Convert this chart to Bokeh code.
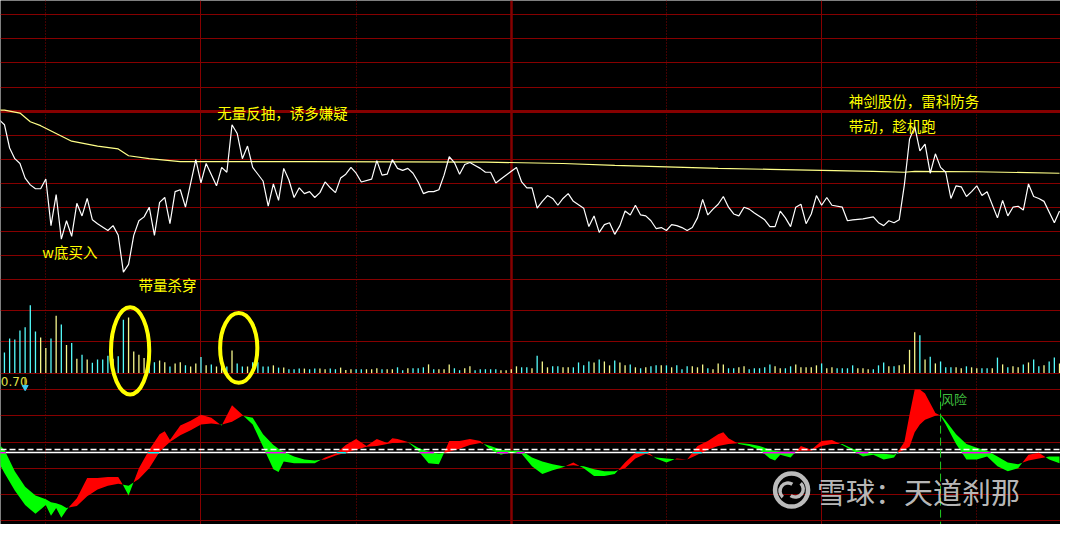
import numpy as np
from bokeh.plotting import figure
from bokeh.models import Range1d
from bokeh.core.properties import value
from bokeh.embed import file_html
from bokeh.resources import INLINE

# x values are trading minutes counted from 09:30 (120 = 11:30 / 13:00)

# ---------------- price line (minute, price) ----------------
price_t = [21, 22, 23, 24, 25, 26, 27, 28, 29, 30, 31, 32, 33, 34, 35, 36, 37, 38, 39, 40,
           42, 43, 44, 45, 46, 47, 48, 49, 50, 51, 52, 53, 54, 55, 56, 57,
           59, 60, 61,
           63, 64, 65, 66, 67, 68, 69, 70,
           72, 73, 74, 75, 76, 77, 78, 79, 80, 81, 82, 83, 84, 85, 86, 87, 88, 89, 90, 91,
           93, 94, 95, 96, 97, 98, 99, 100, 101, 102, 103, 104, 105, 106, 107, 108, 109, 110, 111, 112,
           113, 114, 115, 116, 117, 118,
           120, 121, 122, 123, 124, 125, 126, 127, 128, 129, 130, 131, 132,
           134, 135, 136, 137, 138, 139, 140, 141, 142, 143, 144, 145, 146, 147, 148, 149, 150, 151,
           152, 153, 154, 155, 156, 157, 158, 159, 160, 161, 162, 163, 164, 165, 166, 167,
           169, 170, 171, 172, 173, 174, 175, 176, 177, 178, 179, 180, 181, 182,
           184, 185, 186,
           188,
           190, 191, 192, 193, 194, 195, 196, 197, 198, 199, 200, 201, 202, 203, 204, 205, 206, 207,
           208, 209, 210, 211, 212,
           214, 215, 216, 217, 218, 219, 220, 221, 222, 223,
           225, 226]
price = [9.991, 9.986, 9.962, 9.951, 9.946, 9.931, 9.924, 9.920, 9.920, 9.930, 9.882, 9.914, 9.868, 9.887, 9.871, 9.905, 9.892, 9.910, 9.888, 9.884,
         9.877, 9.882, 9.872, 9.834, 9.842, 9.872, 9.887, 9.891, 9.901, 9.872, 9.906, 9.911, 9.884, 9.917, 9.919, 9.901,
         9.950, 9.926, 9.946,
         9.923, 9.942, 9.937, 9.986, 9.977, 9.951, 9.964, 9.942,
         9.928, 9.902, 9.925, 9.908, 9.941, 9.929, 9.911, 9.921, 9.915, 9.917, 9.911, 9.916, 9.927, 9.921, 9.916, 9.931, 9.935, 9.942, 9.936, 9.927,
         9.930, 9.949, 9.934, 9.935, 9.950, 9.941, 9.939, 9.941, 9.936, 9.927, 9.915, 9.917, 9.917, 9.919, 9.934, 9.953, 9.947, 9.935, 9.945, 9.947,
         9.944, 9.941, 9.937, 9.937, 9.926, 9.930,
         9.938, 9.942, 9.927, 9.921, 9.921, 9.900, 9.907, 9.913, 9.910, 9.903, 9.910, 9.915, 9.907,
         9.900, 9.881, 9.892, 9.875, 9.883, 9.885, 9.873, 9.882, 9.897, 9.893, 9.903, 9.893, 9.892, 9.887, 9.879, 9.880, 9.877, 9.883,
         9.882, 9.880, 9.877, 9.880, 9.890, 9.909, 9.893, 9.899, 9.904, 9.912, 9.901, 9.894, 9.892, 9.901, 9.899, 9.895,
         9.888, 9.881, 9.881, 9.897, 9.890, 9.881, 9.901, 9.904, 9.884, 9.894, 9.913, 9.903, 9.911, 9.903,
         9.901, 9.887, 9.888,
         9.889,
         9.891, 9.885, 9.882, 9.887, 9.885, 9.888, 9.924, 9.971, 9.984, 9.959, 9.966, 9.936, 9.956, 9.942, 9.937, 9.910, 9.923, 9.922,
         9.912, 9.917, 9.923, 9.913, 9.917,
         9.890, 9.908, 9.892, 9.901, 9.902, 9.898, 9.925, 9.912, 9.910, 9.907,
         9.885, 9.897]

# ---------------- average price line ----------------
avg_t = [21, 22, 25, 27, 29, 32, 35, 40, 44, 46, 50, 56, 80, 115, 130, 140, 150, 160, 170, 180, 190, 196, 198, 210, 226]
avg_price = [10.001, 10.001, 9.998, 9.989, 9.985, 9.977, 9.969, 9.964, 9.961, 9.954, 9.951, 9.948, 9.948, 9.9475,
             9.946, 9.944, 9.9425, 9.941, 9.940, 9.939, 9.938, 9.937, 9.938, 9.9375, 9.936]

# ---------------- volume (one bar per minute, minute 22 .. 226) ----------------
vol_t = list(range(22, 227))
volume = [2130, 3570, 3470, 4400, 4730, 7000, 4300, 3670, 2600, 3570,
          5900, 5000, 2900, 3100, 1470, 1900, 1400, 1070, 1400, 1400,
          1800, 1470, 1730, 5500, 5730, 2230, 1900, 1570, 1070, 1130,
          1300, 1130, 670, 1000, 1130, 800, 670, 1000, 1670, 800,
          900, 670, 1000, 670, 2330, 1000, 670, 670, 1130, 1130,
          670, 670, 800, 570, 570, 400, 400, 470, 470, 400,
          470, 470, 400, 470, 400, 570, 330, 400, 400, 400,
          400, 400, 500, 400, 400, 400, 600, 300, 500, 500,
          500, 600, 900, 400, 400, 400, 900, 500, 300, 500,
          700, 300, 400, 400, 400, 400, 300, 300, 400, 700,
          600, 600, 500, 1800, 1200, 600, 700, 700, 600, 600,
          600, 1100, 800, 1200, 1100, 1400, 1200, 800, 1300, 1100,
          800, 900, 600, 500, 600, 700, 800, 800, 800, 600,
          800, 400, 700, 700, 600, 900, 500, 400, 1000, 900,
          500, 500, 600, 700, 400, 500, 500, 600, 900, 700,
          500, 500, 700, 900, 600, 600, 600, 800, 1000, 500,
          600, 500, 500, 500, 800, 500, 500, 400, 400, 800,
          1100, 700, 700, 800, 900, 2400, 4200, 3900, 1400, 1700,
          1000, 1200, 600, 600, 600, 500, 700, 600, 500, 500,
          500, 500, 1600, 900, 600, 700, 600, 900, 1100, 1400,
          700, 800, 1200, 1600, 1000]
vol_up = [0, 0, 0, 0, 0, 0, 0, 1, 1, 0,
          1, 0, 1, 0, 1, 0, 1, 0, 0, 0,
          0, 1, 0, 0, 1, 1, 1, 1, 0, 0,
          1, 1, 0, 1, 1, 0, 1, 1, 0, 1,
          0, 1, 1, 0, 1, 0, 0, 1, 0, 0,
          0, 0, 1, 0, 1, 0, 0, 0, 1, 0,
          0, 1, 1, 0, 0, 1, 1, 1, 0, 0,
          1, 1, 1, 0, 1, 1, 0, 0, 1, 0,
          0, 0, 1, 0, 1, 1, 1, 0, 0, 1,
          1, 0, 0, 0, 0, 0, 1, 1, 1, 1,
          0, 0, 1, 0, 1, 1, 0, 0, 1, 1,
          0, 0, 0, 0, 1, 0, 1, 1, 0, 1,
          1, 0, 1, 0, 1, 0, 0, 1, 0, 1,
          0, 0, 0, 1, 1, 1, 0, 1, 1, 1,
          0, 0, 1, 1, 0, 0, 0, 0, 0, 1,
          1, 0, 0, 1, 1, 1, 1, 1, 0, 1,
          1, 0, 0, 0, 0, 1, 1, 1, 0, 0,
          0, 1, 0, 1, 1, 1, 1, 0, 1, 0,
          1, 0, 0, 0, 1, 1, 0, 1, 1, 0,
          0, 1, 0, 1, 0, 1, 1, 0, 1, 0,
          0, 1, 0, 0, 1]

# ---------------- indicator (fast / slow lines, ribbon between them) ----------------
ind_t = [21, 22, 24, 26, 28, 30, 31, 32, 33, 34,
         36, 38, 40, 42, 44, 45, 46, 48, 50, 52,
         53, 54, 56, 58, 60, 62, 64, 66, 68, 70,
         72, 74, 75, 76, 78, 80, 82, 84, 86, 88,
         90, 92, 94, 96, 97, 98, 100, 102, 104, 106,
         108, 110, 112, 114, 116, 118, 120, 122, 124, 126,
         128, 130, 132, 134, 136, 138, 140, 142, 144, 146,
         148, 150, 152, 154, 156, 158, 160, 161, 162, 164,
         166, 168, 170, 171, 172, 174, 176, 178, 180, 182,
         184, 186, 188, 190, 192, 194, 196, 197, 198, 199,
         200, 202, 203, 204, 206, 208, 210, 212, 214, 216,
         218, 220, 222, 224, 226]
ind_fast = [-0.11, -0.21, -0.39, -0.54, -0.63, -0.54, -0.65, -0.57, -0.67, -0.59,
            -0.47, -0.26, -0.26, -0.25, -0.25, -0.34, -0.44, -0.16, 0.03, 0.19,
            0.22, 0.13, 0.28, 0.33, 0.39, 0.36, 0.28, 0.49, 0.39, 0.29,
            0.06, -0.17, -0.20, -0.09, -0.11, -0.11, -0.11, -0.05, -0.01, 0.08,
            0.14, 0.07, 0.14, 0.10, 0.15, 0.14, 0.11, 0.02, -0.11, -0.12,
            0.12, 0.12, 0.14, 0.12, 0.03, -0.02, 0.01, -0.01, -0.14, -0.22,
            -0.18, -0.15, -0.10, -0.16, -0.24, -0.24, -0.22, -0.10, 0.00, 0.02,
            -0.06, -0.10, -0.06, -0.07, 0.07, 0.12, 0.19, 0.21, 0.15, 0.09,
            0.07, 0.03, -0.06, -0.08, -0.02, -0.05, 0.07, 0.03, 0.12, 0.13,
            0.08, 0.02, -0.04, -0.02, -0.07, -0.05, 0.11, 0.39, 0.65, 0.65,
            0.61, 0.41, 0.38, 0.29, 0.09, -0.07, -0.07, -0.04, -0.14, -0.19,
            -0.16, -0.02, 0.00, -0.07, -0.11]
ind_slow = [0.08, 0.03, -0.19, -0.35, -0.44, -0.48, -0.51, -0.52, -0.54, -0.57,
            -0.55, -0.45, -0.38, -0.34, -0.32, -0.33, -0.34, -0.27, -0.16, 0.01,
            0.06, 0.11, 0.18, 0.23, 0.29, 0.30, 0.29, 0.32, 0.38, 0.36,
            0.19, 0.08, 0.04, 0.01, -0.04, -0.07, -0.08, -0.07, -0.03, 0.00,
            0.03, 0.06, 0.07, 0.09, 0.10, 0.10, 0.11, 0.05, 0.01, -0.01,
            0.01, 0.04, 0.08, 0.10, 0.07, 0.03, 0.02, 0.02, -0.05, -0.09,
            -0.12, -0.14, -0.13, -0.14, -0.17, -0.19, -0.19, -0.16, -0.06, -0.01,
            -0.05, -0.06, -0.07, -0.07, -0.02, 0.03, 0.07, 0.08, 0.09, 0.10,
            0.09, 0.07, 0.03, 0.02, 0.01, 0.00, 0.02, 0.02, 0.07, 0.09,
            0.09, 0.04, 0.01, -0.01, -0.01, -0.02, 0.03, 0.06, 0.21, 0.29,
            0.34, 0.38, 0.39, 0.33, 0.19, 0.09, 0.05, 0.02, -0.04, -0.10,
            -0.12, -0.08, -0.06, -0.04, -0.04]
ind_label = "0.70"
risk_label = "风险"
risk_t = 203

notes = ["无量反抽，诱多嫌疑", "w底买入", "带量杀穿", "神剑股份，雷科防务", "带动，趁机跑"]
watermark = "雪球：天道刹那"

# ---------------- styles / layout ----------------
BG = "#000000"
GRID = "#860000"
UP_C = "#F6F68C"
DN_C = "#55FCFC"
TXT = "#FFFF00"
CJK = value("Noto Sans CJK SC")
PREV_CLOSE = 10.0
PRICE_STEP = 0.0248

p = figure(width=1060, height=524, x_range=Range1d(21.238, 226.19),
           y_range=Range1d(9.574, 10.114), output_backend="svg",
           toolbar_location=None, min_border=0, x_axis_location=None,
           y_axis_location=None, background_fill_color=BG,
           border_fill_color=BG, outline_line_color=None)
p.grid.visible = False
p.extra_y_ranges = {"vol": Range1d(-15600, 38400), "ind": Range1d(-0.74, 4.66)}

# horizontal grid
pgrid = [PREV_CLOSE + k * PRICE_STEP for k in range(-7, 5) if k != 0]
p.hspan(y=pgrid, line_color=GRID, line_width=1)
p.hspan(y=[PREV_CLOSE], line_color=GRID, line_width=3)
p.hspan(y=[0, 3230, 6460], y_range_name="vol", line_color=GRID, line_width=1)
p.hspan(y=[0.65, 0.38, 0.11, -0.16, -0.43, -0.70], y_range_name="ind", line_color=GRID, line_width=1)
# vertical grid
p.vspan(x=[30, 90, 150, 210], line_color=GRID, line_width=1, line_dash="1 2")
p.vspan(x=[60, 180], line_color=GRID, line_width=1)
p.vspan(x=[120], line_color=GRID, line_width=2.5)

# indicator ribbon
t = np.array(ind_t, float)
a = np.array(ind_fast, float)
b = np.array(ind_slow, float)
xs, fa, sb = [t[0]], [a[0]], [b[0]]
for i in range(1, len(t)):
    d0 = a[i - 1] - b[i - 1]
    d1 = a[i] - b[i]
    if d0 * d1 < 0:
        f = d0 / (d0 - d1)
        xc = t[i - 1] + f * (t[i] - t[i - 1])
        yc = a[i - 1] + f * (a[i] - a[i - 1])
        xs.append(xc); fa.append(yc); sb.append(yc)
    xs.append(t[i]); fa.append(a[i]); sb.append(b[i])
xs = np.array(xs); fa = np.array(fa); sb = np.array(sb)

p.hspan(y=[0.0], y_range_name="ind", line_color="white", line_width=1.5)
p.varea(x=xs, y1=sb, y2=np.maximum(fa, sb), y_range_name="ind", fill_color="#FF0000")
p.varea(x=xs, y1=np.minimum(fa, sb), y2=sb, y_range_name="ind", fill_color="#00FF00")

# zero line drawn in XOR colours where the ribbon covers it
fine = np.arange(xs[0], xs[-1], 0.02)
fa_f = np.interp(fine, xs, fa)
sb_f = np.interp(fine, xs, sb)
cover = (np.minimum(fa_f, sb_f) < 0) & (np.maximum(fa_f, sb_f) > 0)
isred = fa_f >= sb_f
x0s, x1s, cols = [], [], []
i = 0
n = len(fine)
while i < n:
    if cover[i]:
        j = i
        while j + 1 < n and cover[j + 1] and isred[j + 1] == isred[i]:
            j += 1
        x0s.append(fine[i]); x1s.append(fine[j] + 0.02)
        cols.append("#00FFFF" if isred[i] else "#FF00FF")
        i = j + 1
    else:
        i += 1
if x0s:
    p.segment(x0=x0s, y0=[0] * len(x0s), x1=x1s, y1=[0] * len(x0s),
              y_range_name="ind", line_color=cols, line_width=1.5)
p.hspan(y=[0.03], y_range_name="ind", line_color="white", line_width=1.5, line_dash="6 3")

# risk marker
p.segment(x0=[risk_t], y0=[0.65], x1=[risk_t], y1=[-0.74], y_range_name="ind",
          line_color="#22CC22", line_width=1, line_dash="8 4")
p.text(x=[risk_t + 0.1], y=[0.56], text=[risk_label], y_range_name="ind",
       text_color="#3FBF3F", text_font=CJK, text_font_size="13px",
       text_align="left", text_baseline="middle")
p.text(x=[21.3], y=[0.73], text=[ind_label], y_range_name="ind",
       text_color="#E2E24A", text_font=value("DejaVu Sans"), text_font_size="12px",
       text_align="left", text_baseline="middle")
# small down arrow after the indicator value
p.segment(x0=[26.0], y0=[0.78], x1=[26.0], y1=[0.69], y_range_name="ind",
          line_color="#B0B020", line_width=1.5)
p.scatter(x=[26.0], y=[0.675], y_range_name="ind", marker="inverted_triangle",
          size=6, fill_color="#40C8F0", line_color="#40C8F0")

# volume bars
vcol = [UP_C if u else DN_C for u in vol_up]
p.segment(x0=vol_t, y0=[0] * len(vol_t), x1=vol_t, y1=volume, y_range_name="vol",
          line_color=vcol, line_width=1.3)

# price & average lines
p.line(avg_t, avg_price, line_color="#FFFF88", line_width=1.2)
p.line(price_t, price, line_color="#FFFFFF", line_width=1.2)

# annotations
note_x = [63.14, 29.33, 47.9, 185.24, 185.24]
note_y = [9.999, 9.8555, 9.8215, 10.011, 9.985]
p.text(x=note_x, y=note_y, text=notes, text_color=TXT, text_font=CJK,
       text_font_size="14.5px", text_align="left", text_baseline="middle")

p.ellipse(x=[46.3, 67.3], y=[2300, 2600], width=[7.4, 7.2], height=[9000, 7200],
          y_range_name="vol", fill_color=None, line_color="#FFFF00", line_width=4)

# watermark
p.scatter(x=[174.19], y=[-0.385], y_range_name="ind", marker="circle", size=33,
          fill_color=None, line_color="#CFCFCF", line_width=4.5, line_alpha=0.9)
p.arc(x=[173.5], y=[-0.395], radius=8, radius_units="screen", start_angle=1.0,
      end_angle=4.0, y_range_name="ind", line_color="#CFCFCF", line_width=3.5, line_alpha=0.9)
p.arc(x=[174.9], y=[-0.375], radius=8, radius_units="screen", start_angle=4.1,
      end_angle=7.1, y_range_name="ind", line_color="#CFCFCF", line_width=3.5, line_alpha=0.9)
p.text(x=[179.1], y=[-0.39], text=[watermark], y_range_name="ind",
       text_color="#D0D0D0", text_alpha=0.9, text_font=CJK, text_font_size="29px",
       text_align="left", text_baseline="middle")

open("out.html", "w").write(file_html(p, INLINE))
